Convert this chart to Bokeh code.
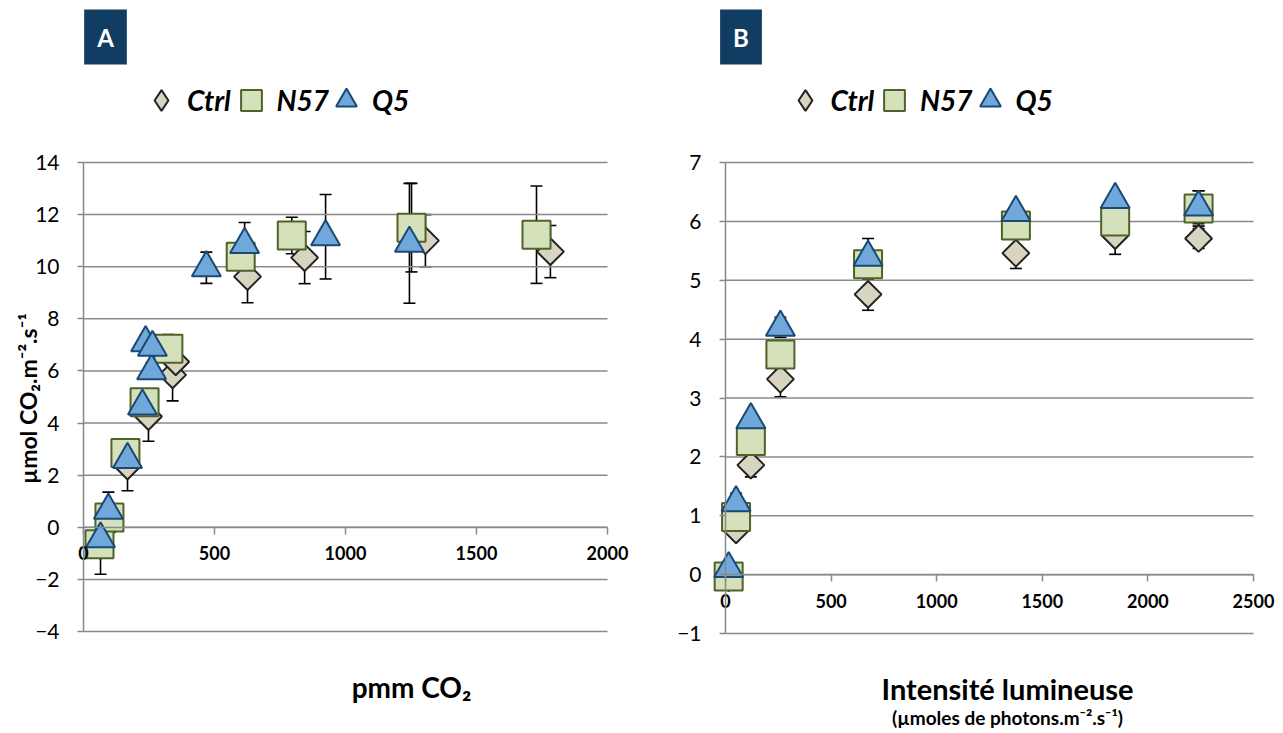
import math
from bokeh.plotting import figure
from bokeh.models import (ColumnDataSource, Whisker, TeeHead, FixedTicker, Legend,
                          LegendItem, Label, Range1d)
from bokeh.layouts import row
from bokeh.embed import file_html
from bokeh.resources import INLINE

# ---------------- data : panel A (CO2 response) ----------------
co2_ctrl_x = [65, 100, 168, 248, 340, 352, 626, 844, 1305, 1782]
co2_ctrl_y = [-0.7, 0.3, 2.35, 4.25, 5.85, 6.35, 9.62, 10.35, 11.0, 10.58]
co2_ctrl_err = [1.1, 0.5, 0.95, 0.95, 1.0, 0.5, 1.0, 1.0, 1.0, 1.0]

co2_n57_x = [61, 99, 160, 233, 324, 600, 795, 1252, 1729]
co2_n57_y = [-0.65, 0.38, 2.85, 4.8, 6.85, 10.38, 11.2, 11.5, 11.23]
co2_n57_err = [0.3, 0.4, 0.55, 0.45, 0.55, 0.35, 0.7, 1.7, 1.87]

co2_q5_x = [65, 95, 168, 225, 260, 237, 263, 469, 615, 924, 1244]
co2_q5_y = [-0.45, 0.65, 2.6, 4.65, 6.0, 7.08, 6.9, 9.96, 10.85, 11.15, 10.9]
co2_q5_err = [0.3, 0.7, 0.3, 0.3, 0.3, 0.3, 0.3, 0.6, 0.85, 1.62, 2.3]

# ---------------- data : panel B (light response) ----------------
light_x = [15, 50, 120, 260, 675, 1375, 1845, 2240]
light_ctrl_y = [-0.05, 0.76, 1.86, 3.32, 4.76, 5.46, 5.76, 5.71]
light_ctrl_err = [0.05, 0.1, 0.2, 0.3, 0.27, 0.26, 0.32, 0.17]
light_n57_y = [-0.03, 0.98, 2.27, 3.74, 5.27, 5.93, 6.0, 6.22]
light_n57_err = [0.05, 0.1, 0.15, 0.25, 0.25, 0.1, 0.15, 0.3]
light_q5_y = [0.1, 1.22, 2.63, 4.2, 5.39, 6.15, 6.37, 6.24]
light_q5_err = [0.05, 0.16, 0.1, 0.17, 0.32, 0.1, 0.13, 0.28]

series_names = ["Ctrl", "N57", "Q5"]
co2_xticks = [0, 500, 1000, 1500, 2000]
co2_yticks = [-4, -2, 0, 2, 4, 6, 8, 10, 12, 14]
light_xticks = [0, 500, 1000, 1500, 2000, 2500]
light_yticks = [-1, 0, 1, 2, 3, 4, 5, 6, 7]

FONT = "Lato"
GRID = "#898989"
CTRL_FILL, CTRL_LINE = "#d8d4c0", "#232323"
N57_FILL, N57_LINE = "#d4e1ba", "#4f6228"
Q5_FILL, Q5_LINE = "#70a8dc", "#1a4a73"
BOX = "#123d62"

FIG_W, FIG_H = 640, 730
LEG_GLYPH = 52


def make_panel(plot_box, xticks, yticks, xs, ys, errs, letter, letter_xy,
               legend_centers, texts):
    # plot_box: pixel box of the plotting area inside the canvas (left, right, top, bottom)
    left, right, top, bottom = plot_box
    x0, x1 = xticks[0], xticks[-1]
    y0, y1 = yticks[0], yticks[-1]
    kx = (right - left) / (x1 - x0)
    ky = (bottom - top) / (y1 - y0)
    xr = Range1d(x0 - left / kx, x1 + (FIG_W - right) / kx)
    yr = Range1d(y0 - (FIG_H - bottom) / ky, y1 + top / ky)

    p = figure(width=FIG_W, height=FIG_H, x_range=xr, y_range=yr,
               output_backend="svg", toolbar_location=None,
               min_border=0, outline_line_color=None)
    p.xgrid.grid_line_color = None
    p.ygrid.grid_line_color = None

    # horizontal gridlines restricted to the x extent of the axis
    p.segment(x0=[x0] * len(yticks), x1=[x1] * len(yticks), y0=yticks, y1=yticks,
              line_color=GRID, line_width=1.5)

    yax = p.yaxis[0]
    yax.fixed_location = x0
    yax.bounds = (y0, y1)
    yax.ticker = FixedTicker(ticks=yticks)
    yax.axis_line_color = GRID
    yax.axis_line_width = 1.5
    yax.major_tick_line_color = GRID
    yax.major_tick_line_width = 1.5
    yax.major_tick_out = 6
    yax.major_tick_in = 0
    yax.minor_tick_line_color = None
    yax.major_label_standoff = 18
    yax.major_label_text_font = FONT
    yax.major_label_text_font_size = "21px"
    yax.major_label_text_color = "black"

    xax = p.xaxis[0]
    xax.fixed_location = 0
    xax.bounds = (x0, x1)
    xax.ticker = FixedTicker(ticks=xticks)
    xax.axis_line_color = GRID
    xax.axis_line_width = 1.5
    xax.major_tick_line_color = GRID
    xax.major_tick_line_width = 1.5
    xax.major_tick_out = 7
    xax.major_tick_in = 0
    xax.minor_tick_line_color = None
    xax.major_label_standoff = 12
    xax.major_label_text_font = FONT
    xax.major_label_text_font_size = "18px"
    xax.major_label_text_font_style = "bold"
    xax.major_label_text_color = "black"

    styles = [
        dict(marker="square", size=19, angle=math.pi / 4, fill_color=CTRL_FILL, line_color=CTRL_LINE),
        dict(marker="square", size=28, angle=0, fill_color=N57_FILL, line_color=N57_LINE),
        dict(marker="triangle", size=29, angle=0, fill_color=Q5_FILL, line_color=Q5_LINE),
    ]
    sources = []
    for x, y, e in zip(xs, ys, errs):
        src = ColumnDataSource(dict(x=x, y=y,
                                    lo=[a - b for a, b in zip(y, e)],
                                    hi=[a + b for a, b in zip(y, e)]))
        sources.append(src)
        p.add_layout(Whisker(source=src, base="x", upper="hi", lower="lo",
                             line_color="black", line_width=1.6,
                             upper_head=TeeHead(size=12, line_color="black", line_width=1.6),
                             lower_head=TeeHead(size=12, line_color="black", line_width=1.6)))
    renderers = []
    for src, st in zip(sources, styles):
        r = p.scatter("x", "y", source=src, marker=st["marker"], size=st["size"],
                      angle=st["angle"], fill_color=st["fill_color"],
                      line_color=st["line_color"], line_width=2)
        renderers.append(r)

    # legend swatch for Ctrl (diamond) : a renderer holding no visible point
    nan = float("nan")
    swatch = p.scatter(x=[nan], y=[nan], marker="diamond", fill_color=CTRL_FILL,
                       line_color=CTRL_LINE, line_width=2)
    leg_renderers = [swatch, renderers[1], renderers[2]]
    for name, rend, cx in zip(series_names, leg_renderers, legend_centers):
        leg = Legend(items=[LegendItem(label=name, renderers=[rend])],
                     orientation="horizontal",
                     location=(cx - LEG_GLYPH / 2 - 5, FIG_H - 100 - LEG_GLYPH / 2),
                     glyph_width=LEG_GLYPH, glyph_height=LEG_GLYPH, label_standoff=0,
                     spacing=0, padding=0, margin=0, border_line_color=None,
                     background_fill_alpha=0, label_text_font=FONT,
                     label_text_font_style="bold italic",
                     label_text_font_size="28px", label_text_color="black")
        p.add_layout(leg)

    p.add_layout(Label(x=letter_xy[0], y=FIG_H - letter_xy[1], x_units="screen", y_units="screen",
                       text=letter, text_align="center", text_baseline="middle",
                       text_color="white", text_font=FONT, text_font_style="bold",
                       text_font_size="24px", background_fill_color=BOX, padding=13))
    for (txt, lx, ly, fs, ang) in texts:
        p.add_layout(Label(x=lx, y=FIG_H - ly, x_units="screen", y_units="screen", text=txt,
                           angle=ang, text_align="center", text_baseline="middle",
                           text_color="black", text_font=FONT, text_font_style="bold",
                           text_font_size=fs))
    return p


pA = make_panel((83, 607, 162, 631), co2_xticks, co2_yticks,
                [co2_ctrl_x, co2_n57_x, co2_q5_x], [co2_ctrl_y, co2_n57_y, co2_q5_y],
                [co2_ctrl_err, co2_n57_err, co2_q5_err],
                "A", (105, 36.5), (166, 255.5, 351),
                [("pmm CO₂", 411, 686, "28px", 0),
                 ("µmol CO₂.m⁻².s⁻¹", 27, 398, "23px", math.pi / 2)])

pB = make_panel((85, 613, 162, 633), light_xticks, light_yticks,
                [light_x, light_x, light_x], [light_ctrl_y, light_n57_y, light_q5_y],
                [light_ctrl_err, light_n57_err, light_q5_err],
                "B", (100.5, 36.5), (169.5, 259, 354.5),
                [("Intensité lumineuse", 367, 688, "29px", 0),
                 ("(µmoles de photons.m⁻².s⁻¹)", 367, 717, "19px", 0)])

layout = row(pA, pB)
open("out.html", "w").write(file_html(layout, INLINE))
